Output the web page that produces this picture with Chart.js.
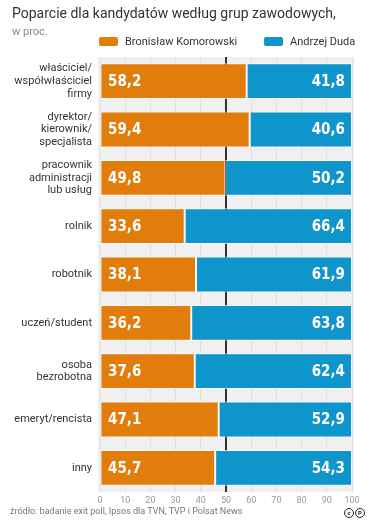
<!DOCTYPE html>
<html><head><meta charset="utf-8">
<script src="https://cdn.jsdelivr.net/npm/chart.js@4"></script>
<style>
html,body{margin:0;padding:0;background:#fff;}
body{width:382px;height:526px;position:relative;overflow:hidden;font-family:Roboto,"DejaVu Sans",sans-serif;}
#c{position:absolute;left:0;top:0;}
.t{position:absolute;white-space:nowrap;}
#title{left:12px;top:5px;font-size:14px;color:#333;}
#sub{left:12px;top:25px;font-size:11px;color:#888;}
.lg{position:absolute;top:34px;height:14px;font-size:11px;color:#333;display:flex;align-items:center;}
.lg span.b{display:inline-block;width:19px;height:9px;border-radius:2px;margin-right:7px;}
#foot{left:10px;top:506px;font-size:9px;color:#777;letter-spacing:0px;}
#cc{position:absolute;left:344px;top:508px;display:flex;gap:1px;}
#cc span{display:inline-block;width:8px;height:8px;border:1.5px solid #222;border-radius:50%;font-size:6px;line-height:8px;text-align:center;font-weight:bold;color:#222;}
</style></head>
<body>
<canvas id="c" width="382" height="526"></canvas>
<div class="t" id="title">Poparcie dla kandydatów według grup zawodowych,</div>
<div class="t" id="sub">w proc.</div>
<div class="lg" style="left:99px"><span class="b" style="background:#E27D0C"></span>Bronisław Komorowski</div>
<div class="lg" style="left:264px"><span class="b" style="background:#0E95CB"></span>Andrzej Duda</div>
<div class="t" id="foot">źródło: badanie exit poll, Ipsos dla TVN, TVP i Polsat News</div>
<div id="cc"><span>c</span><span>P</span></div>
<script>
const categories = [
  ["właściciel/", "współwłaściciel", "firmy"],
  ["dyrektor/", "kierownik/", "specjalista"],
  ["pracownik", "administracji", "lub usług"],
  "rolnik",
  "robotnik",
  "uczeń/student",
  ["osoba", "bezrobotna"],
  "emeryt/rencista",
  "inny"
];
const komorowski = [58.2, 59.4, 49.8, 33.6, 38.1, 36.2, 37.6, 47.1, 45.7];
const duda = [41.8, 40.6, 50.2, 66.4, 61.9, 63.8, 62.4, 52.9, 54.3];
const xTicks = [0, 10, 20, 30, 40, 50, 60, 70, 80, 90, 100];

const ORANGE = '#E27D0C', BLUE = '#0E95CB';

const bgPlugin = {
  id: 'bg',
  beforeDraw(chart) {
    const {ctx, chartArea: a} = chart;
    ctx.save();
    ctx.fillStyle = '#f0f0f0';
    ctx.fillRect(a.left - 2, a.top, a.right - a.left + 4, a.bottom - a.top);
    ctx.restore();
  }
};
const valuePlugin = {
  id: 'vals',
  afterDatasetsDraw(chart) {
    const {ctx, chartArea: a} = chart;
    ctx.save();
    ctx.fillStyle = '#fff';
    ctx.font = 'bold 15px "DejaVu Sans Condensed", "DejaVu Sans", sans-serif';
    ctx.textBaseline = 'middle';
    chart.data.datasets.forEach((ds, di) => {
      const meta = chart.getDatasetMeta(di);
      meta.data.forEach((bar, i) => {
        const txt = ds.data[i].toFixed(1).replace('.', ',');
        if (di === 0) { ctx.textAlign = 'left'; ctx.fillText(txt, a.left + 8, bar.y + 1); }
        else { ctx.textAlign = 'right'; ctx.fillText(txt, a.right - 7, bar.y + 1); }
      });
    });
    ctx.restore();
  }
};

new Chart(document.getElementById('c'), {
  type: 'bar',
  data: {
    labels: categories,
    datasets: [
      {label: 'Bronisław Komorowski', data: komorowski, backgroundColor: ORANGE, borderColor: 'rgba(255,255,255,0.7)', borderWidth: 1, borderSkipped: false},
      {label: 'Andrzej Duda', data: duda, backgroundColor: BLUE, borderColor: 'rgba(255,255,255,0.7)', borderWidth: 1, borderSkipped: false}
    ]
  },
  options: {
    indexAxis: 'y',
    responsive: false,
    animation: false,
    devicePixelRatio: 1,
    layout: {padding: {left: 0, right: 30, top: 57, bottom: 20}},
    datasets: {bar: {barPercentage: 0.74, categoryPercentage: 1}},
    plugins: {legend: {display: false}, tooltip: {enabled: false}, title: {display: false}},
    scales: {
      x: {
        stacked: true, min: 0, max: 100,
        afterBuildTicks(s) { s.ticks = xTicks.map(v => ({value: v})); },
        afterFit(s) { s.height = 14; },
        border: {display: false},
        grid: {
          drawTicks: false,
          color: c => c.tick && c.tick.value === 50 ? '#333' : '#e0e0e0',
          lineWidth: c => c.tick && c.tick.value === 50 ? 2 : 1
        },
        ticks: {padding: 3, color: '#999', font: {size: 9, family: 'Roboto'}}
      },
      y: {
        stacked: true,
        afterFit(s) { s.width = 100; },
        border: {display: false},
        grid: {display: false, drawTicks: false},
        ticks: {padding: 8, color: '#333', font: {size: 11, family: 'Roboto', lineHeight: 1.15}}
      }
    }
  },
  plugins: [bgPlugin, valuePlugin]
});
</script>
</body></html>
